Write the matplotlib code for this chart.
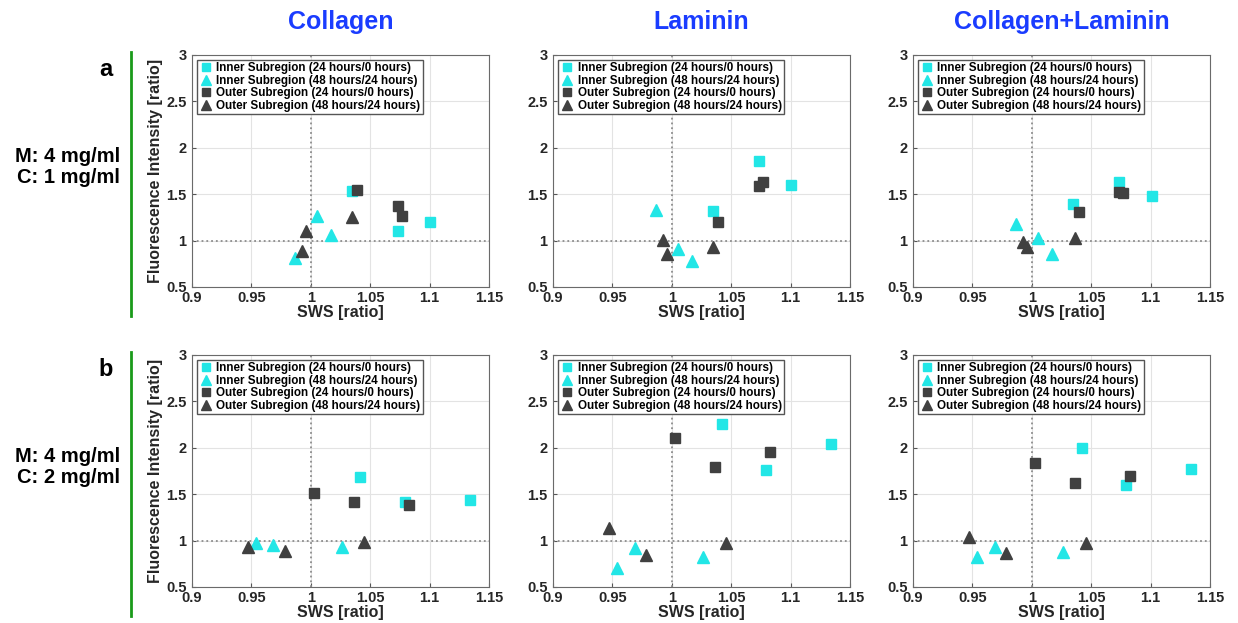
import matplotlib
matplotlib.use('Agg')
import matplotlib.pyplot as plt
from matplotlib.lines import Line2D
from matplotlib.ticker import FormatStrFormatter

plt.rcParams['font.family'] = ['Liberation Sans', 'DejaVu Sans']
plt.rcParams['font.weight'] = 'bold'

# panel order: a-Collagen, a-Laminin, a-Collagen+Laminin, b-Collagen, b-Laminin, b-Collagen+Laminin
titles = ['Collagen', 'Laminin', 'Collagen+Laminin']
row_tags = ['a', 'b']
row_conds = ['M: 4 mg/ml\nC: 1 mg/ml', 'M: 4 mg/ml\nC: 2 mg/ml']
labels = ['Inner Subregion (24 hours/0 hours)', 'Inner Subregion (48 hours/24 hours)',
          'Outer Subregion (24 hours/0 hours)', 'Outer Subregion (48 hours/24 hours)']

inner24_sws = [[1.035, 1.073, 1.100], [1.073, 1.100, 1.035], [1.073, 1.101, 1.035],
               [1.041, 1.079, 1.134], [1.042, 1.079, 1.134], [1.042, 1.079, 1.134]]
inner24_fi = [[1.53, 1.10, 1.20], [1.86, 1.60, 1.32], [1.63, 1.48, 1.39],
              [1.68, 1.42, 1.44], [2.26, 1.76, 2.04], [2.00, 1.60, 1.77]]
inner48_sws = [[0.987, 1.005, 1.017], [0.987, 1.005, 1.017], [0.987, 1.005, 1.017],
               [0.954, 0.968, 1.026], [0.954, 0.969, 1.026], [0.954, 0.969, 1.026]]
inner48_fi = [[0.81, 1.27, 1.06], [1.33, 0.91, 0.78], [1.18, 1.03, 0.86],
              [0.97, 0.955, 0.93], [0.70, 0.92, 0.82], [0.82, 0.93, 0.88]]
outer24_sws = [[1.039, 1.073, 1.077], [1.073, 1.077, 1.039], [1.073, 1.077, 1.040],
               [1.003, 1.036, 1.083], [1.003, 1.036, 1.083], [1.003, 1.036, 1.083]]
outer24_fi = [[1.54, 1.37, 1.26], [1.59, 1.63, 1.20], [1.52, 1.51, 1.31],
              [1.51, 1.42, 1.38], [2.11, 1.79, 1.96], [1.84, 1.62, 1.70]]
outer48_sws = [[0.993, 0.996, 1.035], [0.993, 0.996, 1.035], [0.993, 0.996, 1.036],
               [0.947, 0.978, 1.045], [0.947, 0.978, 1.046], [0.947, 0.978, 1.046]]
outer48_fi = [[0.89, 1.10, 1.25], [1.01, 0.86, 0.93], [0.98, 0.93, 1.03],
              [0.93, 0.89, 0.99], [1.14, 0.84, 0.97], [1.04, 0.87, 0.97]]

cyan = '#22e6e6'
dark = '#404040'
series = [(inner24_sws, inner24_fi, 's', cyan, 6.5),
          (inner48_sws, inner48_fi, '^', cyan, 8.5),
          (outer24_sws, outer24_fi, 's', dark, 6.5),
          (outer48_sws, outer48_fi, '^', dark, 8.5)]

W, H = 1238, 623
fig = plt.figure(figsize=(W / 100, H / 100), dpi=100)

lefts = [192, 553, 913]
tops = [55, 355]
aw, ah = 297, 232

for r in range(2):
    for c in range(3):
        p = r * 3 + c
        ax = fig.add_axes([lefts[c] / W, 1 - (tops[r] + ah) / H, aw / W, ah / H])
        ax.grid(True, color='#e3e3e3', lw=0.8)
        ax.set_axisbelow(True)
        ax.axvline(1, color='#8c8c8c', ls=':', lw=1.3, zorder=1)
        ax.axhline(1, color='#8c8c8c', ls=':', lw=1.3, zorder=1)
        for (xs, ys, mk, col, ms), lab in zip(series, labels):
            ax.plot(xs[p], ys[p], ls='none', marker=mk, color=col, ms=ms,
                    mec=col, label=lab, zorder=3)
        ax.set_xlim(0.9, 1.15)
        ax.set_ylim(0.5, 3)
        ax.set_xticks([0.9, 0.95, 1, 1.05, 1.1, 1.15])
        ax.set_yticks([0.5, 1, 1.5, 2, 2.5, 3])
        ax.xaxis.set_major_formatter(FormatStrFormatter('%g'))
        ax.yaxis.set_major_formatter(FormatStrFormatter('%g'))
        ax.tick_params(direction='in', length=3, width=0.8, labelsize=10.5,
                       color='#555555', labelcolor='#262626')
        ax.tick_params(axis='x', pad=3)
        ax.tick_params(axis='y', pad=4)
        for lab in ax.get_xticklabels() + ax.get_yticklabels():
            lab.set_fontweight('bold')
        for s in ax.spines.values():
            s.set_color('#6a6a6a')
            s.set_linewidth(0.8)
        ax.set_xlabel('SWS [ratio]', fontsize=11.5, fontweight='bold',
                      color='#262626', labelpad=0)
        if c == 0:
            ax.set_ylabel('Fluorescence Intensity [ratio]', fontsize=11.5,
                          fontweight='bold', color='#262626', labelpad=2)
        leg = ax.legend(loc='upper left', prop={'weight': 'bold', 'size': 8.4},
                        frameon=True, fancybox=False, framealpha=1,
                        borderaxespad=0.4, borderpad=0.2, labelspacing=0.05,
                        handletextpad=0.3, handlelength=1.2, markerscale=0.85)
        leg.get_frame().set_edgecolor('#555555')
        leg.get_frame().set_linewidth(1.0)

for c in range(3):
    fig.text((lefts[c] + aw / 2) / W, 1 - 22 / H, titles[c], ha='center', va='center',
             fontsize=18, fontweight='heavy', color='#1a3cff')

for r in range(2):
    y0 = tops[r]
    fig.text(113 / W, 1 - (y0 + 14) / H, row_tags[r], ha='right', va='center',
             fontsize=17, fontweight='bold')
    fig.text(120 / W, 1 - (y0 + 112) / H, row_conds[r], ha='right', va='center',
             fontsize=14.5, fontweight='bold', linespacing=1.15)
    fig.add_artist(Line2D([131 / W, 131 / W], [1 - (y0 - 3) / H, 1 - (y0 + 261) / H],
                          color='#1a9a1a', lw=2))

fig.savefig('out.png', dpi=100)
